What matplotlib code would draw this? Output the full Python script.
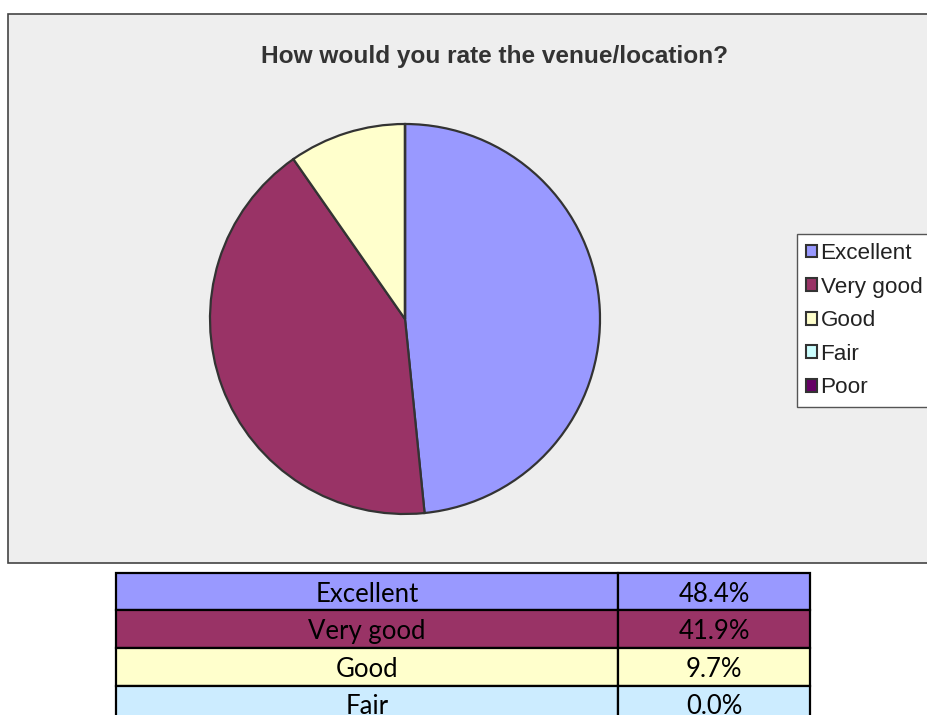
"""Pie chart of venue/location ratings with a legend and a summary table below."""

import matplotlib

matplotlib.use("Agg")
import matplotlib.pyplot as plt
from matplotlib.patches import Patch, Rectangle

# Survey results (percent of responses)
categories = ["Excellent", "Very good", "Good", "Fair", "Poor"]
values = [48.4, 41.9, 9.7, 0.0, 0.0]
pie_colors = ["#9999FF", "#993366", "#FFFFCC", "#CCFFFF", "#660066"]
table_colors = ["#9999FF", "#993366", "#FFFFCC", "#CCECFF", "#660066"]
title = "How would you rate the venue/location?"

W, H = 928, 715


def fx(px):
    return px / W


def fy(py):
    return 1 - py / H


fig = plt.figure(figsize=(W / 100, H / 100), dpi=100)
fig.patch.set_facecolor("white")

# grey chart area (right edge runs off the image)
fig.patches.append(Rectangle((fx(8), fy(563)), fx(1000) - fx(8), fy(14) - fy(563),
                             transform=fig.transFigure, facecolor="#EEEEEE",
                             edgecolor="#444444", linewidth=1.2, zorder=-5))

fig.text(fx(494.5), fy(63), title, ha="center", va="baseline", fontsize=17.6,
         fontweight="bold", color="#333333", family="Liberation Sans")

# pie
ax = fig.add_axes([fx(210), fy(514), fx(390), 390 / H])
ax.set_zorder(2)
ax.pie(values, colors=pie_colors, startangle=90, counterclock=False, radius=1,
       wedgeprops=dict(edgecolor="#333333", linewidth=1.6, clip_on=False))
ax.set_xlim(-1, 1)
ax.set_ylim(-1, 1)

# legend
handles = [Patch(facecolor=c, edgecolor="#333333", linewidth=1.5) for c in pie_colors]
leg = fig.legend(handles, categories, loc="upper left",
                 bbox_to_anchor=(fx(797), fy(234)), borderaxespad=0,
                 frameon=True, fancybox=False, framealpha=1, edgecolor="#555555",
                 prop=dict(family="Liberation Sans", size=16.2),
                 handlelength=0.5, handleheight=0.5, handletextpad=0.15,
                 labelspacing=0.56, borderpad=0.4)
leg.get_frame().set_linewidth(1.0)
leg.set_zorder(3)
for t in leg.get_texts():
    t.set_color("#222222")

# table below the chart
row_h = 37.6
tab_top = 572.7
tab_ax = fig.add_axes([fx(116), fy(tab_top + row_h * len(categories)),
                       fx(810) - fx(116), row_h * len(categories) / H])
tab_ax.axis("off")
cell_text = [[c, f"{v:.1f}%"] for c, v in zip(categories, values)]
cell_colours = [[c, c] for c in table_colors]
tab = tab_ax.table(cellText=cell_text, cellColours=cell_colours, cellLoc="center",
                   colWidths=[502 / 694, 192 / 694], bbox=[0, 0, 1, 1])
tab.auto_set_font_size(False)
tab.set_fontsize(18.5)
for cell in tab.get_celld().values():
    cell.set_edgecolor("black")
    cell.set_linewidth(1.6)
    cell.get_text().set_fontfamily("Lato")
    cell.get_text().set_color("black")
    cell.get_text().set_va("center_baseline")

fig.savefig("out.png", dpi=100)
